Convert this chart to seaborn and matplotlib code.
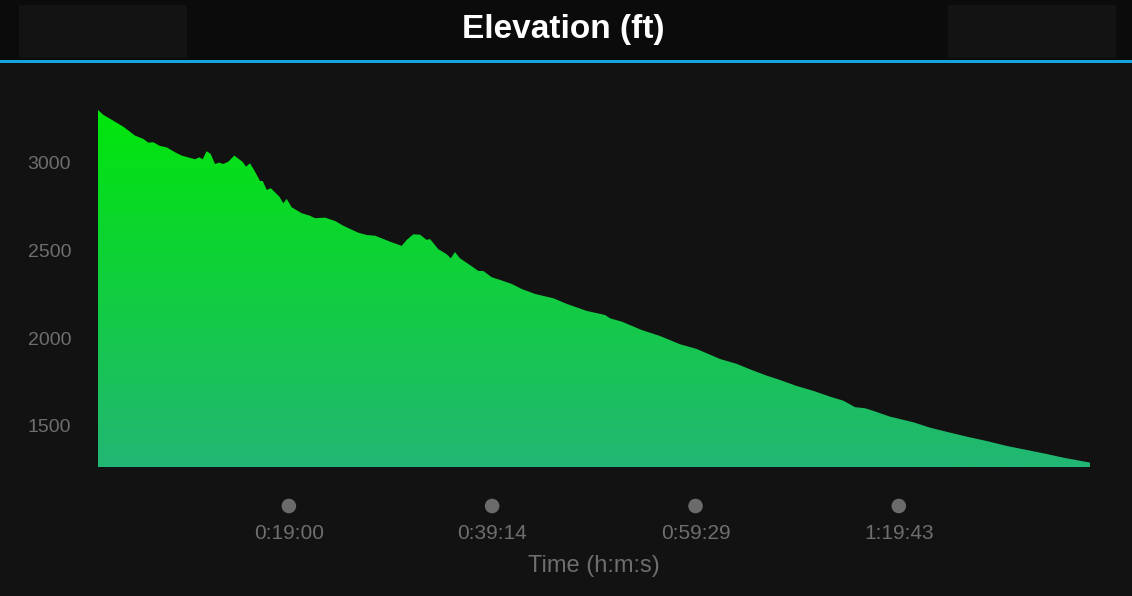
import numpy as np
import pandas as pd
import matplotlib
matplotlib.use("Agg")
import matplotlib.pyplot as plt
import seaborn as sns
from matplotlib.patches import Rectangle
from matplotlib.colors import LinearSegmentedColormap
import matplotlib.transforms as mtransforms

# ---- data (time in seconds, elevation in feet) ----
time_s = [0, 32, 91, 151, 221, 271, 300, 330, 370, 410, 460, 500, 579, 605, 625,
          649, 673, 699, 724, 748, 778, 814, 864, 884, 908, 932, 968, 984, 1008,
          1032, 1083, 1107, 1127, 1157, 1217, 1266, 1296, 1356, 1416, 1465, 1555,
          1605, 1655, 1744, 1814, 1844, 1883, 1923, 1963, 1983, 2033, 2083, 2107,
          2132, 2162, 2212, 2272, 2301, 2352, 2401, 2471, 2531, 2610, 2720, 2800,
          2919, 3028, 3058, 3128, 3248, 3357, 3476, 3576, 3715, 3815, 3894, 3994,
          4074, 4173, 4273, 4372, 4452, 4522, 4581, 4631, 4731, 4870, 4970, 5089,
          5189, 5308, 5428, 5547, 5667, 5766, 5925]
elevation_ft = [3302, 3274, 3241, 3207, 3156, 3137, 3116, 3118, 3097, 3089, 3061,
                3042, 3021, 3032, 3021, 3067, 3051, 2994, 3002, 2994, 3007, 3042,
                3006, 2979, 2998, 2960, 2897, 2897, 2846, 2856, 2808, 2770, 2795,
                2747, 2713, 2699, 2685, 2688, 2669, 2642, 2602, 2589, 2585, 2551,
                2527, 2561, 2593, 2591, 2561, 2566, 2508, 2479, 2456, 2492, 2456,
                2424, 2384, 2384, 2348, 2333, 2310, 2281, 2253, 2228, 2196, 2156,
                2133, 2114, 2095, 2047, 2013, 1966, 1939, 1882, 1854, 1823, 1787,
                1762, 1728, 1700, 1667, 1644, 1607, 1601, 1586, 1553, 1521, 1490,
                1462, 1439, 1414, 1386, 1363, 1340, 1319, 1291]
x_tick_values = [1140, 2354, 3569, 4783]
x_tick_labels = ["0:19:00", "0:39:14", "0:59:29", "1:19:43"]
y_tick_values = [1500, 2000, 2500, 3000]

BG = "#121212"
GRAY = "#6e6e6e"

sns.set_theme(style="dark", rc={"axes.facecolor": BG, "figure.facecolor": BG})
plt.rcParams["font.family"] = ["Liberation Sans", "DejaVu Sans"]

df = pd.DataFrame({"t": time_s, "elev": elevation_ft})

W, H = 1132, 596
fig = plt.figure(figsize=(W / 100, H / 100), dpi=100)
fig.patch.set_facecolor(BG)

# header
fig.add_artist(Rectangle((0, 1 - 60 / H), 1, 60 / H, transform=fig.transFigure,
                         facecolor="#0b0b0b", edgecolor="none", zorder=0))
for x0 in (19, 948):
    fig.add_artist(Rectangle((x0 / W, 1 - 58 / H), 168 / W, 53 / H,
                             transform=fig.transFigure, facecolor="#131313",
                             edgecolor="none", zorder=1))
fig.add_artist(Rectangle((0, 1 - 62.5 / H), 1, 2.5 / H, transform=fig.transFigure,
                         facecolor="#17a2e0", edgecolor="none", zorder=2))
fig.text(563 / W, 1 - 29.5 / H, "Elevation (ft)", color="white", fontsize=24,
         fontweight="bold", ha="center", va="center")

ax = fig.add_axes([98 / W, (H - 467.5) / H, 992 / W, 367.5 / H])
ax.set_facecolor(BG)
ymin, ymax = 1263, 3359
xmin, xmax = 0, 5925

sns.lineplot(data=df, x="t", y="elev", ax=ax, color="#00e60a", linewidth=0.0)

poly = ax.fill_between(df["t"], df["elev"], ymin, facecolor="none", edgecolor="none")
cmap = LinearSegmentedColormap.from_list("g", ["#22b674", "#00e60a"])
grad = np.linspace(0, 1, 256).reshape(-1, 1)
top_val = max(elevation_ft)
img = ax.imshow(grad, cmap=cmap, aspect="auto", origin="lower",
                extent=[xmin, xmax, ymin, top_val], zorder=2)
path = poly.get_paths()[0]
img.set_clip_path(path, transform=ax.transData)

ax.set_xlim(xmin, xmax)
ax.set_ylim(ymin, ymax)
for s in ax.spines.values():
    s.set_visible(False)
ax.grid(False)
ax.set_xlabel("")
ax.set_ylabel("")

ax.set_yticks(y_tick_values)
ax.set_yticklabels([str(v) for v in y_tick_values])
ax.set_xticks(x_tick_values)
ax.set_xticklabels(x_tick_labels)
ax.tick_params(axis="y", length=0, pad=19.4, labelsize=14, labelcolor=GRAY)
ax.tick_params(axis="x", length=0, pad=41.0, labelsize=15, labelcolor=GRAY)

trans = mtransforms.blended_transform_factory(ax.transData, ax.transAxes)
ax.scatter(x_tick_values, [-38.5 / 367.5] * len(x_tick_values), s=110,
           color="#6b6b6b", transform=trans, clip_on=False, zorder=5,
           edgecolors="none")

fig.text(594 / W, 1 - 566 / H, "Time (h:m:s)", color=GRAY, fontsize=17,
         ha="center", va="center")

fig.savefig("out.png", dpi=100, facecolor=BG)
